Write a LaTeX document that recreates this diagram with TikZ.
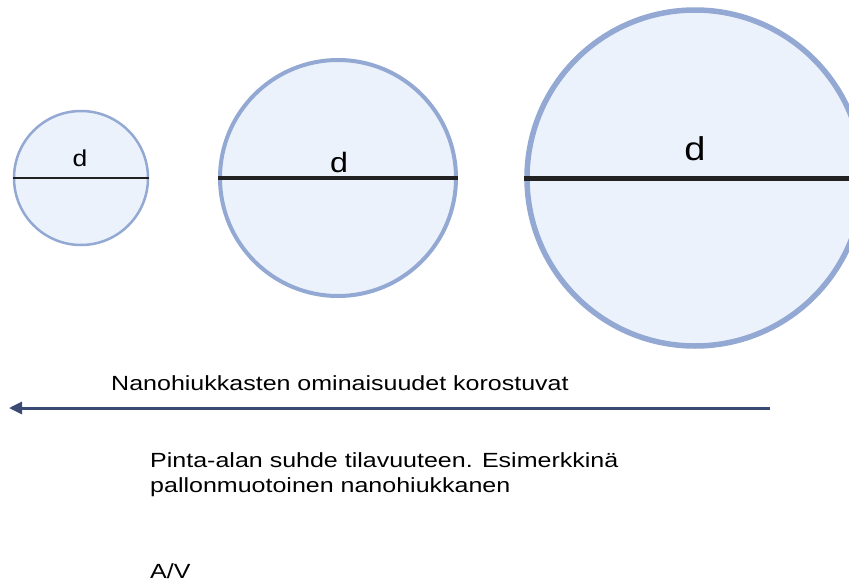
\documentclass[tikz,border=0pt]{standalone}
\usepackage{fontspec}
\setmainfont{Liberation Sans}
\usetikzlibrary{arrows.meta}
\definecolor{ringblue}{HTML}{93A9D3}
\definecolor{fillblue}{HTML}{EBF2FB}
\definecolor{navy}{HTML}{3B4A73}
\definecolor{ink}{HTML}{222222}
\tikzset{
  particle/.style={circle, draw=ringblue, fill=fillblue, inner sep=0pt},
  dlabel/.style={inner sep=0pt, text=black, transform shape, xscale=1.15},
  txt/.style={inner sep=0pt, anchor=base west, text=black, font=\fontsize{20.5}{24.5}\selectfont, align=left, transform shape, xscale=1.22}
}
\begin{document}
\begin{tikzpicture}[x=1pt,y=-1pt]
\useasboundingbox (0,0) rectangle (849,584);
\begin{scope}
\clip (0,0) rectangle (849,584);
% circles
\node[particle, line width=2.5pt, minimum size=134pt] (c1) at (81,178) {};
\node[particle, line width=4pt, minimum size=236pt] (c2) at (338,178) {};
\node[particle, line width=5.5pt, minimum size=336pt] (c3) at (695,178) {};
% diameters
\draw[ink, line width=2.2pt] (c1.west) -- (c1.east);
\draw[ink, line width=3.2pt] (c2.west) -- (c2.east);
\draw[ink, line width=5pt] (c3.west) -- (c3.east);
\end{scope}
\node[dlabel, font=\fontsize{23}{23}\selectfont] (d1) at (80,158) {d};
\node[dlabel, font=\fontsize{28}{28}\selectfont] (d2) at (339,162) {d};
\node[dlabel, font=\fontsize{33}{33}\selectfont] (d3) at (695,149) {d};
% arrow
\coordinate (astart) at (770,408);
\coordinate (aend) at (9,408);
\draw[navy, line width=3pt, -{Triangle[length=13pt,width=12pt]}] (astart) -- (aend);
\node[txt] (t1) at (111,390.7) {Nanohiukkasten ominaisuudet korostuvat};
\node[txt] (t2) at (150,467.5) {Pinta-alan suhde tilavuuteen. Esimerkkinä};
\node[txt] (t2b) at (150,492) {pallonmuotoinen nanohiukkanen};
\node[txt] (t3) at (150,578) {A/V};
\end{tikzpicture}
\end{document}
